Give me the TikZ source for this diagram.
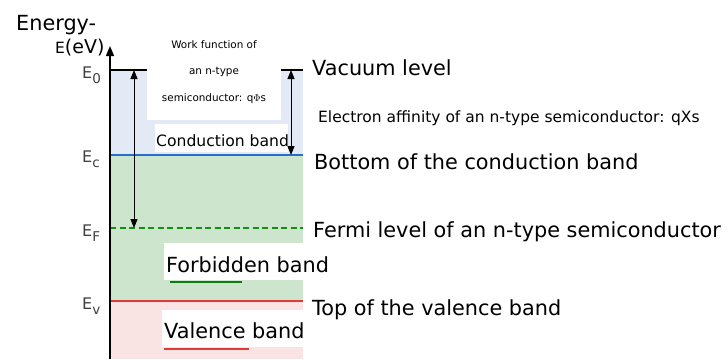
\documentclass[tikz,border=0pt]{standalone}
\usepackage{fontspec}
\setmainfont{DejaVu Sans}
\usetikzlibrary{arrows.meta}
\definecolor{cbblue}{HTML}{E3EAF6}
\definecolor{fbgreen}{HTML}{CDE5CC}
\definecolor{vbpink}{HTML}{FAE3E3}
\definecolor{lineblue}{HTML}{2470CF}
\definecolor{linered}{HTML}{E23A3A}
\definecolor{dashgreen}{HTML}{139013}
\definecolor{lblgray}{HTML}{404040}
\definecolor{ulgreen}{HTML}{0A7D0A}
\newcommand\lsub[1]{\raisebox{-5pt}{\fontsize{13.5}{14}\selectfont #1}}
\begin{document}
\begin{tikzpicture}[x=1pt,y=-1pt,
  big/.style={inner sep=0pt, anchor=base west, font=\fontsize{20.8}{24}\selectfont},
  mid/.style={inner sep=0pt, anchor=base west, font=\fontsize{15.5}{18}\selectfont},
  small/.style={inner sep=0pt, anchor=base, font=\fontsize{10.4}{12}\selectfont},
  elbl/.style={inner sep=0pt, anchor=base west, text=lblgray, font=\fontsize{16}{18}\selectfont},
  whitebox/.style={fill=white, draw=none},
  dimarrow/.style={line width=0.9pt, {Triangle[length=9pt,width=7pt]}-{Triangle[length=9pt,width=7pt]}}]
\useasboundingbox (0,0) rectangle (728,359);
% bands
\fill[cbblue] (110,70) rectangle (303,155);
\fill[fbgreen] (110,155) rectangle (303,301);
\fill[vbpink] (110,301) rectangle (303,359);
% levels
\draw[line width=2pt] (110,70) -- (303,70);
\draw[lineblue, line width=2pt] (110,155) -- (303,155);
\draw[linered, line width=2pt] (110,301) -- (303,301);
\draw[dashgreen, line width=1.6pt, dash pattern=on 6pt off 3.5pt] (110,228) -- (303,228);
% white boxes
\fill[whitebox] (147,36) rectangle (281,120);
\fill[whitebox] (155,124) rectangle (288,152);
\fill[whitebox] (164,243) rectangle (303,280);
\fill[whitebox] (162,310) rectangle (303,347);
% axis
\coordinate (axb) at (110,359);
\coordinate (axt) at (110,46);
\draw[line width=1.4pt, -{Triangle[length=10pt,width=8pt]}] (axb) -- (axt);
% dimension arrows
\coordinate (wfTop) at (134,70);
\coordinate (wfBot) at (134,228);
\coordinate (eaTop) at (291,70);
\coordinate (eaBot) at (291,155);
\draw[dimarrow] (wfBot) -- (wfTop);
\draw[dimarrow] (eaTop) -- (eaBot);
% texts in boxes
\node[small] (wf1) at (214,48.5) {Work function of};
\node[small] (wf2) at (214,74.5) {an n-type};
\node[small] (wf3) at (214,101) {semiconductor: q$\Phi$s};
\node[mid, font=\fontsize{15.6}{18}\selectfont] (cb) at (156,146) {Conduction band};
\node[big] (fb) at (166,272) {Forbidden band};
\node[big] (vb) at (164,338) {Valence band};
\draw[ulgreen, line width=2pt] (170,282) -- (242,282);
\draw[linered, line width=2pt] (164,349) -- (249,349);
% axis labels
\node[big] (en) at (16,30) {Energy-};
\node[inner sep=0pt, anchor=base west] (eev) at (55,53) {{\fontsize{15.5}{18}\selectfont E}{\fontsize{19}{20}\selectfont (eV)}};
\node[elbl] (e0) at (82,78) {E\lsub{0}};
\node[elbl] (ec) at (82,162) {E\lsub{c}};
\node[elbl] (ef) at (82,236) {E\lsub{F}};
\node[elbl] (ev) at (82,309) {E\lsub{v}};
% right labels
\node[big] (vac) at (312,75) {Vacuum level};
\node[mid] (ea) at (318,122.5) {Electron affinity of an n-type semiconductor: qXs};
\node[big] (bcb) at (314,169) {Bottom of the conduction band};
\node[big] (fl) at (313,237) {Fermi level of an n-type semiconductor};
\node[big] (tvb) at (312,315) {Top of the valence band};
\end{tikzpicture}
\end{document}
